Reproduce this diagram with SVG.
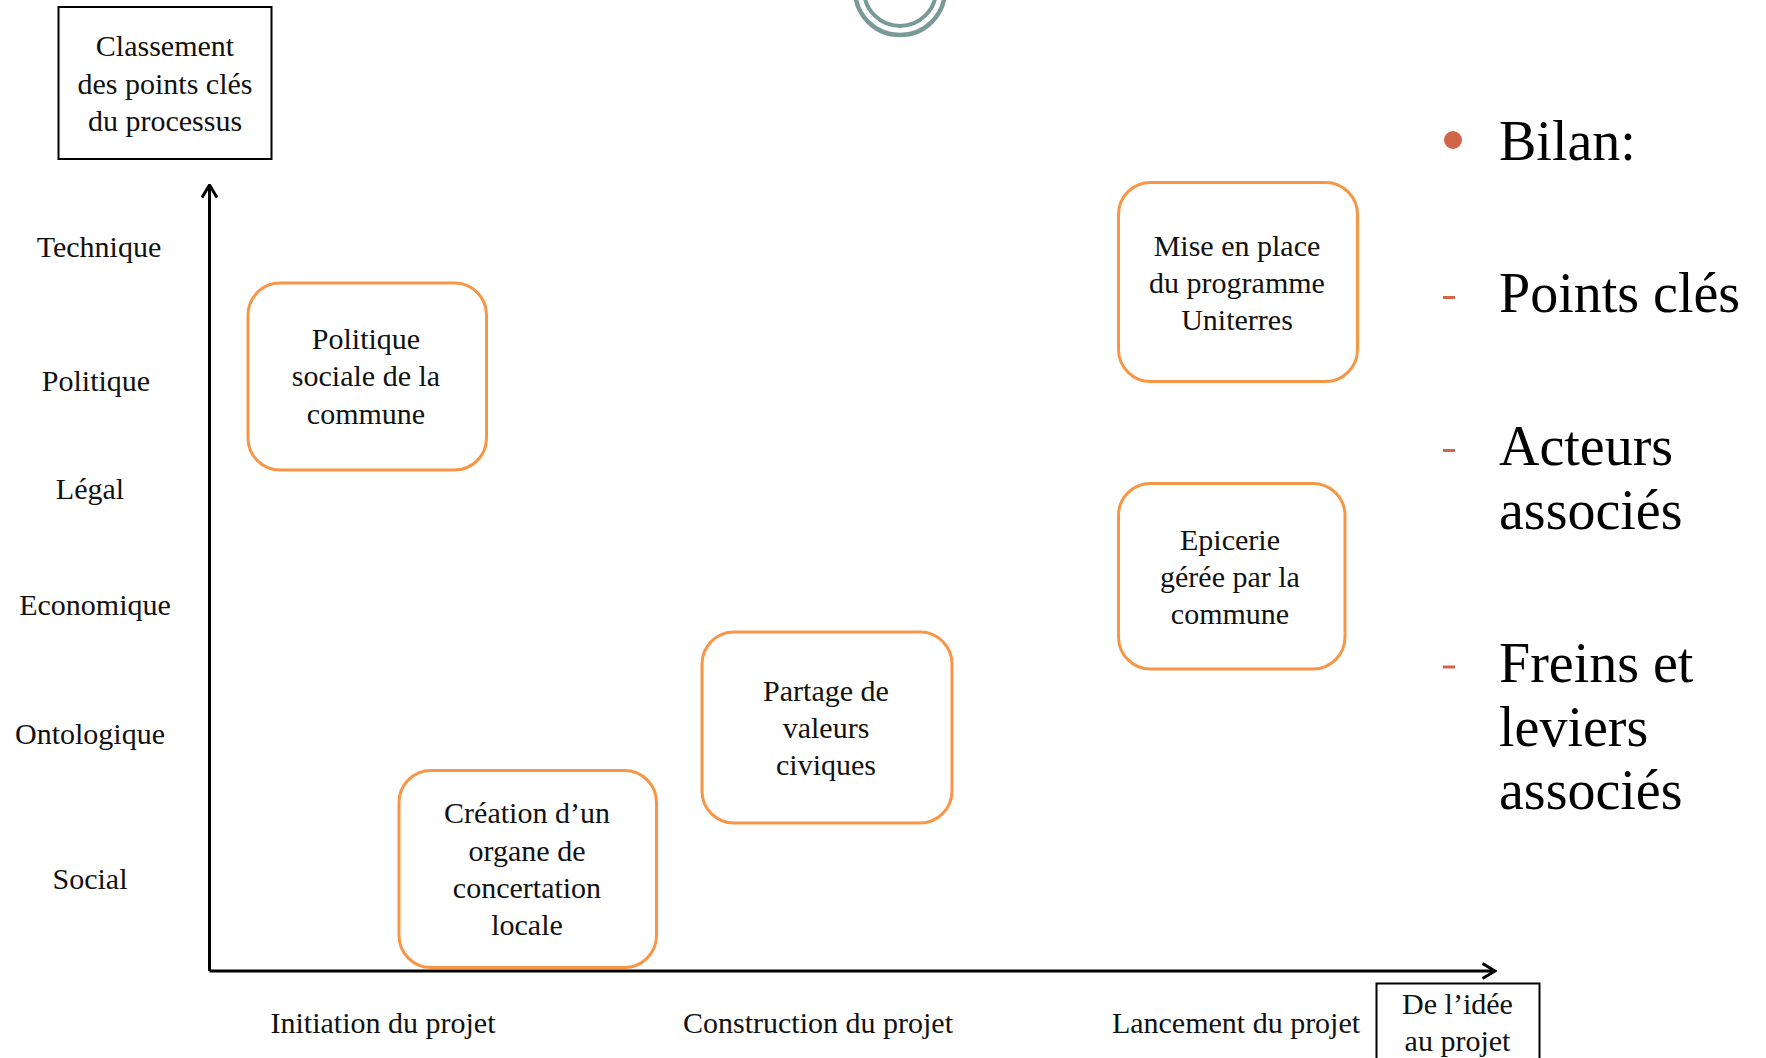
<svg xmlns="http://www.w3.org/2000/svg" width="1766" height="1058" viewBox="0 0 1766 1058">
<defs>
<style>
.t{font-family:"Liberation Serif","Times New Roman",serif;font-size:30px;fill:#111;text-anchor:middle}
.big{font-family:"Liberation Serif","Times New Roman",serif;font-size:56px;fill:#000}
.node{fill:#fff;stroke:#F79646;stroke-width:3}
.frame{fill:#fff;stroke:#000;stroke-width:2}
.axis{stroke:#000;stroke-width:3;fill:none}
.dash{stroke:#D0654A;stroke-width:3}
</style>
<marker id="arr" viewBox="0 0 16 18" refX="14.5" refY="9" markerWidth="16" markerHeight="18" markerUnits="userSpaceOnUse" orient="auto">
<path d="M2,1.5 L14.5,9 L2,16.5" fill="none" stroke="#000" stroke-width="3"/>
</marker>
</defs>
<rect width="1766" height="1058" fill="#fff"/>

<g id="slide-number">
<circle cx="900" cy="-10" r="45" fill="none" stroke="#7A9A98" stroke-width="4.5"/>
<circle cx="900" cy="-10" r="36" fill="none" stroke="#7A9A98" stroke-width="4"/>
</g>

<g id="connectors">
<line class="axis" x1="209.5" y1="971" x2="209.5" y2="185" marker-end="url(#arr)"/>
<line class="axis" x1="209.5" y1="971" x2="1495" y2="971" marker-end="url(#arr)"/>
</g>

<g id="title-box">
<rect class="frame" x="58.5" y="7" width="213" height="152"/>
<text class="t" x="165" y="56">Classement</text>
<text class="t" x="165" y="93.5">des points clés</text>
<text class="t" x="165" y="130.5">du processus</text>
</g>

<g id="y-labels">
<text class="t" x="99" y="257">Technique</text>
<text class="t" x="96" y="391">Politique</text>
<text class="t" x="90" y="499">Légal</text>
<text class="t" x="95" y="615">Economique</text>
<text class="t" x="90" y="744">Ontologique</text>
<text class="t" x="90" y="889">Social</text>
</g>

<g id="x-labels">
<text class="t" x="383" y="1033">Initiation du projet</text>
<text class="t" x="818" y="1033">Construction du projet</text>
<text class="t" x="1236" y="1033">Lancement du projet</text>
</g>

<g id="axis-box">
<rect class="frame" x="1376.5" y="983.5" width="163" height="90"/>
<text class="t" x="1457.5" y="1014">De l’idée</text>
<text class="t" x="1457.5" y="1051">au projet</text>
</g>

<g id="node-politique">
<rect class="node" x="248" y="283" width="238.5" height="187" rx="32"/>
<text class="t" x="366" y="349">Politique</text>
<text class="t" x="366" y="386">sociale de la</text>
<text class="t" x="366" y="423.5">commune</text>
</g>

<g id="node-uniterres">
<rect class="node" x="1118.5" y="182.5" width="239" height="199" rx="32"/>
<text class="t" x="1237" y="256">Mise en place</text>
<text class="t" x="1237" y="293">du programme</text>
<text class="t" x="1237" y="330">Uniterres</text>
</g>

<g id="node-epicerie">
<rect class="node" x="1118.5" y="483.5" width="226.5" height="185.5" rx="32"/>
<text class="t" x="1230" y="550">Epicerie</text>
<text class="t" x="1230" y="587">gérée par la</text>
<text class="t" x="1230" y="624">commune</text>
</g>

<g id="node-partage">
<rect class="node" x="702" y="632" width="250" height="191" rx="32"/>
<text class="t" x="826" y="700.5">Partage de</text>
<text class="t" x="826" y="738">valeurs</text>
<text class="t" x="826" y="775">civiques</text>
</g>

<g id="node-creation">
<rect class="node" x="399" y="770.5" width="257.5" height="197" rx="32"/>
<text class="t" x="527" y="823">Création d’un</text>
<text class="t" x="527" y="860.5">organe de</text>
<text class="t" x="527" y="897.5">concertation</text>
<text class="t" x="527" y="935">locale</text>
</g>

<g id="bilan">
<circle cx="1453" cy="140" r="9" fill="#D0654A"/>
<text class="big" x="1499" y="160">Bilan:</text>
<line class="dash" x1="1443" y1="297.5" x2="1455" y2="297.5"/>
<text class="big" x="1499" y="312">Points clés</text>
<line class="dash" x1="1443" y1="450.5" x2="1455" y2="450.5"/>
<text class="big" x="1499" y="465">Acteurs</text>
<text class="big" x="1499" y="529">associés</text>
<line class="dash" x1="1443" y1="667" x2="1455" y2="667"/>
<text class="big" x="1499" y="682">Freins et</text>
<text class="big" x="1499" y="745.5">leviers</text>
<text class="big" x="1499" y="809">associés</text>
</g>
</svg>
